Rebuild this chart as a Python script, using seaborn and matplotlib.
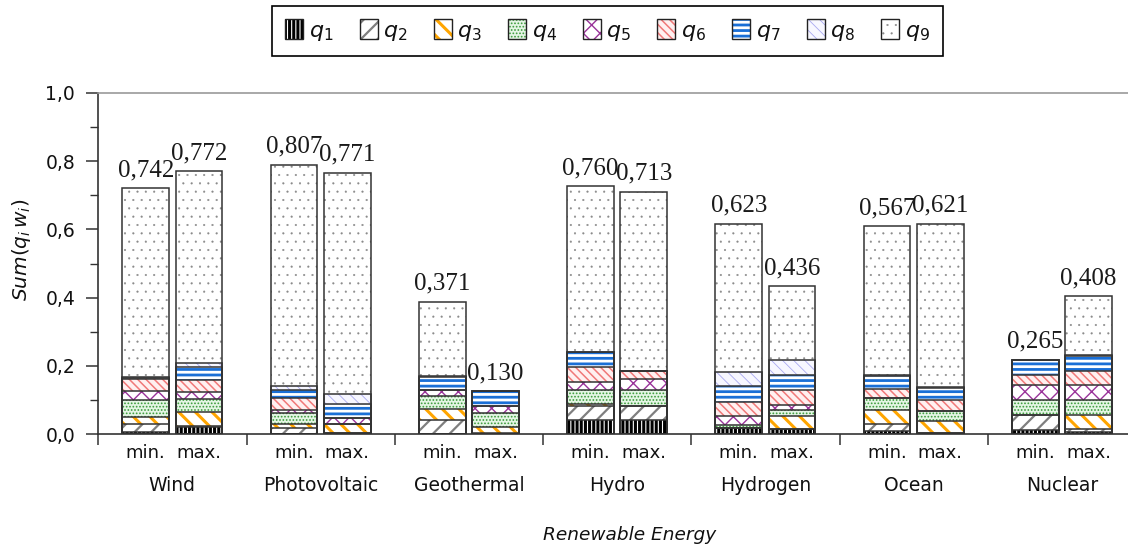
import numpy as np
import pandas as pd
import matplotlib
matplotlib.use("Agg")
import matplotlib.pyplot as plt
import matplotlib.transforms as mtransforms
from matplotlib.patches import Patch
from matplotlib.ticker import MultipleLocator, FuncFormatter
import seaborn as sns

# ---------------- data ----------------
categories = ["Wind", "Photovoltaic", "Geothermal", "Hydro", "Hydrogen", "Ocean", "Nuclear"]
cases = ["min.", "max."]
# order of values: Wind min, Wind max, Photovoltaic min, Photovoltaic max, ...
q1 = [0.007, 0.021, 0.000, 0.002, 0.000, 0.000, 0.040, 0.040, 0.018, 0.014, 0.010, 0.003, 0.012, 0.005]
q2 = [0.022, 0.002, 0.019, 0.002, 0.040, 0.004, 0.042, 0.042, 0.000, 0.000, 0.018, 0.000, 0.045, 0.010]
q3 = [0.022, 0.042, 0.010, 0.024, 0.032, 0.018, 0.007, 0.000, 0.000, 0.040, 0.043, 0.034, 0.000, 0.042]
q4 = [0.049, 0.039, 0.032, 0.000, 0.039, 0.041, 0.039, 0.046, 0.007, 0.017, 0.035, 0.031, 0.043, 0.043]
q5 = [0.027, 0.018, 0.009, 0.018, 0.017, 0.020, 0.025, 0.032, 0.029, 0.013, 0.000, 0.000, 0.044, 0.044]
q6 = [0.034, 0.036, 0.035, 0.000, 0.000, 0.000, 0.043, 0.026, 0.039, 0.044, 0.026, 0.031, 0.029, 0.042]
q7 = [0.003, 0.039, 0.025, 0.041, 0.040, 0.042, 0.044, 0.000, 0.047, 0.046, 0.039, 0.037, 0.045, 0.044]
q8 = [0.002, 0.010, 0.010, 0.031, 0.003, 0.000, 0.000, 0.000, 0.043, 0.042, 0.003, 0.003, 0.000, 0.003]
q9 = [0.554, 0.564, 0.650, 0.648, 0.217, 0.000, 0.487, 0.524, 0.434, 0.217, 0.436, 0.478, 0.000, 0.171]
value_labels_min = ["0,742", "0,807", "0,371", "0,760", "0,623", "0,567", "0,265"]
value_labels_max = ["0,772", "0,771", "0,130", "0,713", "0,436", "0,621", "0,408"]
series_names = ["$q_1$", "$q_2$", "$q_3$", "$q_4$", "$q_5$", "$q_6$", "$q_7$", "$q_8$", "$q_9$"]

# ---------------- styles ----------------
# (hatch, hatch colour, face colour, hatch linewidth)
styles = [
    ("||||", "#000000", "white", 2.2),
    ("//", "#7f7f7f", "white", 1.6),
    ("\\\\", "#ffa500", "white", 2.2),
    (".....", "#3a9a3a", "#e4f5e4", 0.8),
    ("xx", "#993399", "white", 1.0),
    ("\\\\\\\\", "#f07878", "#fff0f0", 1.1),
    ("---", "#1a6fd6", "white", 2.0),
    ("\\\\\\", "#a8a8f0", "#f7f7ff", 0.6),
    ("..", "#8a8a8a", "white", 0.3),
]

sns.set_theme(style="ticks")
plt.rcParams["font.family"] = ["DejaVu Sans"]
plt.rcParams["mathtext.fontset"] = "dejavusans"
plt.rcParams["mathtext.default"] = "it"
plt.rcParams["text.color"] = "#111111"
plt.rcParams["axes.labelcolor"] = "#111111"
plt.rcParams["xtick.color"] = "#333333"
plt.rcParams["ytick.color"] = "#333333"
plt.rcParams["xtick.labelcolor"] = "#111111"
plt.rcParams["ytick.labelcolor"] = "#111111"

fig = plt.figure(figsize=(11.28, 5.48), dpi=100, facecolor="white")
ax = fig.add_axes([0.0871, 0.208, 0.92, 0.6223])

series = np.array([q1, q2, q3, q4, q5, q6, q7, q8, q9])
cum = np.cumsum(series, axis=0)
energy_col = np.repeat(categories, 2)
case_col = np.tile(cases, len(categories))

bar_kw = dict(x="energy", y="value", hue="case", order=categories, hue_order=cases,
              width=0.72, gap=0.125, dodge=True, errorbar=None, legend=False, ax=ax)

# hatched layers, from the top of the stack downwards (each covers those below it)
for k in range(8, -1, -1):
    hatch, hc, face, hlw = styles[k]
    df = pd.DataFrame({"energy": energy_col, "case": case_col, "value": cum[k]})
    n0 = len(ax.containers)
    with plt.rc_context({"hatch.linewidth": hlw}):
        sns.barplot(data=df, facecolor=face, edgecolor=hc, linewidth=0, hatch=hatch, **bar_kw)
    for cont in ax.containers[n0:]:
        for p in cont:
            if hasattr(p, "set_hatch_linewidth"):
                p.set_hatch_linewidth(hlw)

# outlines of every segment
for k in range(9):
    df = pd.DataFrame({"energy": energy_col, "case": case_col, "value": cum[k]})
    sns.barplot(data=df, facecolor="none", edgecolor="#333333", linewidth=1.1, **bar_kw)

# value labels above total bars
ax.bar_label(ax.containers[0], labels=value_labels_min, padding=5, fontsize=18,
             family="Liberation Serif", color="#1a1a1a")
ax.bar_label(ax.containers[1], labels=value_labels_max, padding=5, fontsize=18,
             family="Liberation Serif", color="#1a1a1a")

# ---------------- axes ----------------
ax.set_xlim(-0.5, len(categories) - 0.5)
ax.set_ylim(0, 1.0)
ax.yaxis.set_major_locator(MultipleLocator(0.2))
ax.yaxis.set_minor_locator(MultipleLocator(0.1))
ax.yaxis.set_major_formatter(FuncFormatter(lambda v, _: f"{v:.1f}".replace(".", ",")))
ax.tick_params(axis="y", which="major", length=8.6, width=1.1, pad=8, labelsize=13.5, direction="out")
ax.tick_params(axis="y", which="minor", length=6, width=1.0, direction="out")

ax.set_xticks(range(len(categories)))
ax.set_xticklabels(categories)
ax.tick_params(axis="x", which="major", length=0, pad=30, labelsize=13.5)
ax.set_xticks(np.arange(-0.5, len(categories) + 0.5, 1), minor=True)
ax.tick_params(axis="x", which="minor", length=8, width=1.1, direction="out")

trans = mtransforms.blended_transform_factory(ax.transData, ax.transAxes)
for cont, case in zip(ax.containers[:2], cases):
    for p in cont:
        ax.text(p.get_x() + p.get_width() / 2, -0.0557, case, transform=trans,
                ha="center", va="center", fontsize=13)

for side in ["left", "bottom"]:
    ax.spines[side].set_color("#333333")
    ax.spines[side].set_linewidth(1.2)
ax.spines["right"].set_visible(False)
ax.spines["top"].set_color("#9a9a9a")
ax.spines["top"].set_linewidth(1.2)

ax.set_ylabel(r"$Sum(q_i\,w_i)$", fontsize=14.5)
ax.yaxis.set_label_coords(-0.063, 0.54)
ax.set_xlabel("Renewable Energy", fontsize=13.3, style="italic")
ax.xaxis.set_label_coords(0.5124, -0.27)

# ---------------- legend ----------------
handles = []
for hatch, hc, face, hlw in styles:
    with plt.rc_context({"hatch.linewidth": hlw}):
        fill = Patch(facecolor=face, edgecolor=hc, hatch=hatch, linewidth=0)
    edge = Patch(facecolor="none", edgecolor="#222222", linewidth=1.0)
    handles.append((fill, edge))
leg = fig.legend(handles, series_names, loc="upper center", bbox_to_anchor=(0.5386, 0.989),
                 bbox_transform=fig.transFigure, ncol=9, fontsize=16, frameon=True,
                 fancybox=False, edgecolor="black", handlelength=0.81, handleheight=0.95,
                 handletextpad=0.25, columnspacing=1.18, borderpad=0.6, borderaxespad=0)
leg.get_frame().set_linewidth(1.2)
leg.get_frame().set_alpha(1)
for h, (hatch, hc, face, hlw) in zip(leg.legend_handles, styles):
    if hasattr(h, "set_hatch_linewidth"):
        h.set_hatch_linewidth(hlw)

fig.savefig("out.png", dpi=100, facecolor="white")
